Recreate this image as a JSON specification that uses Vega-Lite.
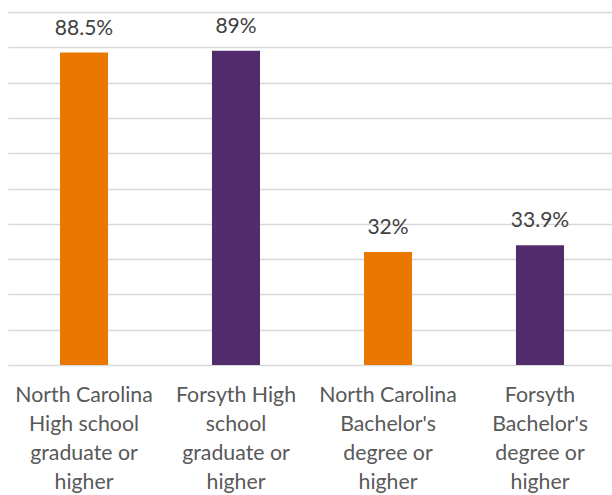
{
  "$schema": "https://vega.github.io/schema/vega-lite/v6.json",
  "width": 604,
  "height": 353,
  "autosize": {"type": "none"},
  "padding": {"left": 8, "top": 12, "right": 0, "bottom": 130},
  "background": "white",
  "config": {"view": {"stroke": null}, "font": "Lato"},
  "data": {
    "values": [
      {"category": "North Carolina|High school|graduate or|higher", "group": "North Carolina", "value": 88.5, "label": "88.5%"},
      {"category": "Forsyth High|school|graduate or|higher", "group": "Forsyth", "value": 89, "label": "89%"},
      {"category": "North Carolina|Bachelor's|degree or|higher", "group": "North Carolina", "value": 32, "label": "32%"},
      {"category": "Forsyth|Bachelor's|degree or|higher", "group": "Forsyth", "value": 33.9, "label": "33.9%"}
    ]
  },
  "encoding": {
    "x": {
      "field": "category",
      "type": "nominal",
      "sort": null,
      "scale": {"paddingInner": 0.684, "paddingOuter": 0.342, "range": [0, 608]},
      "axis": {
        "title": null,
        "labelExpr": "split(datum.label, '|')",
        "labelAngle": 0,
        "domain": false,
        "ticks": false,
        "grid": false,
        "labelPadding": 19,
        "labelFontSize": 21.3,
        "labelLineHeight": 29,
        "labelColor": "#595959",
        "labelFont": "Lato",
        "labelLimit": 300,
        "labelOverlap": false
      }
    },
    "y": {
      "field": "value",
      "type": "quantitative",
      "scale": {"domain": [0, 100]},
      "axis": {
        "title": null,
        "labels": false,
        "ticks": false,
        "domain": false,
        "values": [0, 10, 20, 30, 40, 50, 60, 70, 80, 90, 100],
        "grid": true,
        "gridColor": "#d9d9d9",
        "gridWidth": 1.3
      }
    }
  },
  "layer": [
    {
      "mark": {"type": "bar"},
      "encoding": {
        "color": {
          "field": "group",
          "type": "nominal",
          "scale": {"domain": ["North Carolina", "Forsyth"], "range": ["#EA7700", "#522C6C"]},
          "legend": null
        }
      }
    },
    {
      "mark": {"type": "text", "baseline": "alphabetic", "dy": -18, "fontSize": 21, "font": "Lato", "color": "#404040"},
      "encoding": {"text": {"field": "label"}}
    }
  ]
}
